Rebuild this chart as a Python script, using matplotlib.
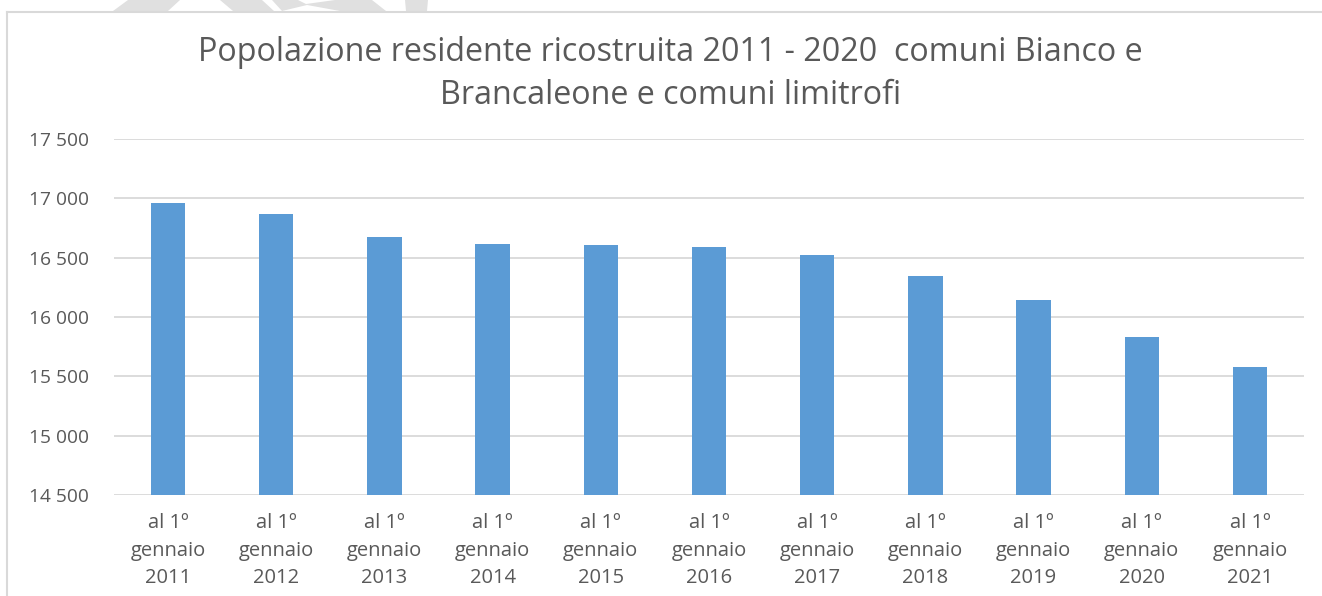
import matplotlib.pyplot as plt
from matplotlib.patches import Polygon
from matplotlib.lines import Line2D

# Population data
years = ["2011", "2012", "2013", "2014", "2015", "2016", "2017", "2018", "2019", "2020", "2021"]
population = [16961, 16869, 16678, 16611, 16603, 16592, 16519, 16342, 16145, 15829, 15576]
labels = ["al 1º\ngennaio\n" + y for y in years]
yticks = [14500, 15000, 15500, 16000, 16500, 17000, 17500]

plt.rcParams['font.family'] = ['Open Sans', 'DejaVu Sans']
text_color = "#595959"

fig = plt.figure(figsize=(13.22, 5.96), dpi=100)
ax = fig.add_axes([0.0862, 0.1695, 0.9002, 0.5973])

x = range(len(years))
ax.bar(x, population, width=0.318, color="#5b9bd5", zorder=3)

ax.set_xlim(-0.5, len(years) - 0.5)
ax.set_ylim(14500, 17500)
ax.set_yticks(yticks)
ax.set_yticklabels([f"{v:,}".replace(",", " ") for v in yticks])
ax.set_xticks(list(x))
ax.set_xticklabels(labels, linespacing=1.5)

ax.grid(axis="y", color="#d9d9d9", linewidth=1.3, zorder=0)
for s in ax.spines.values():
    s.set_visible(False)
ax.tick_params(axis="both", length=0, colors=text_color)
ax.tick_params(axis="y", labelsize=13.8, pad=18)
ax.tick_params(axis="x", labelsize=14.5, pad=13)

fig.text(0.507, 0.876, "Popolazione residente ricostruita 2011 - 2020  comuni Bianco e\nBrancaleone e comuni limitrofi",
         ha="center", va="center", fontsize=23.2, color=text_color, linespacing=1.37)

# chart frame (top and left edges visible)
fig.add_artist(Line2D([7/1322, 1.0], [1 - 12/596, 1 - 12/596], color="#d9d9d9", linewidth=1.5))
fig.add_artist(Line2D([7/1322, 7/1322], [0, 1 - 12/596], color="#d9d9d9", linewidth=1.5))

# faint watermark shapes above the frame
def px(pts):
    return [(a / 1322, 1 - b / 596) for a, b in pts]

wm = "#e0e0e0"
for shape in [
    [(113, 11), (128, 0), (180, 0), (168, 11)],
    [(220, 0), (262, 0), (274, 11), (233, 11)],
    [(272, 0), (298, 0), (306, 4), (335, 0), (372, 0), (386, 11), (340, 11), (307, 5), (282, 11)],
    [(405, 0), (428, 0), (427, 11), (406, 11)],
]:
    fig.add_artist(Polygon(px(shape), closed=True, facecolor=wm, edgecolor="none", zorder=0))

fig.savefig("out.png", dpi=100, facecolor="white")
